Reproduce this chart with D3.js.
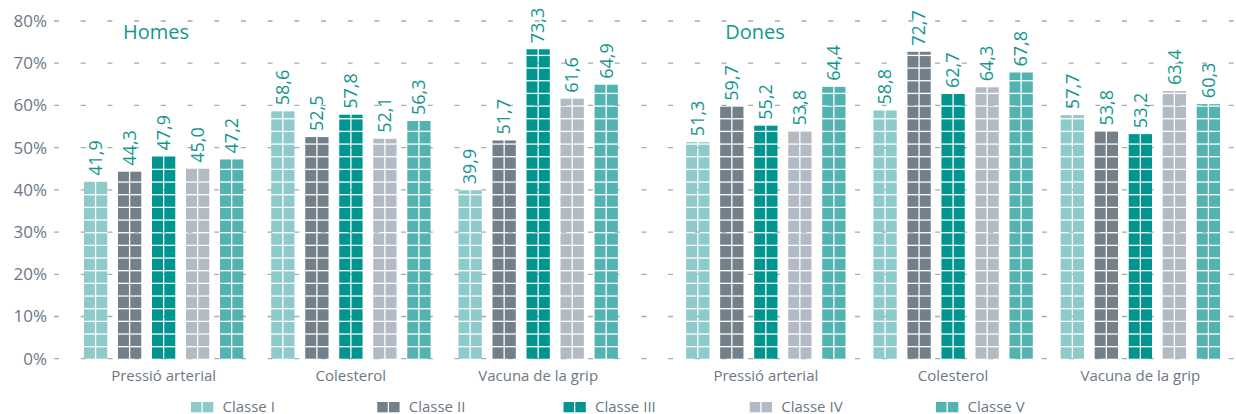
<!DOCTYPE html>
<html>
<head>
<meta charset="utf-8">
<script src="https://cdn.jsdelivr.net/npm/d3@7"></script>
<style>
  body { margin: 0; background: #fff; }
  text { font-family: "Open Sans", sans-serif; }
</style>
</head>
<body>
<div id="chart"></div>
<script>
// data
const sexes = ["Homes", "Dones"];
const categories = ["Pressió arterial", "Colesterol", "Vacuna de la grip"];
const classes = ["Classe I", "Classe II", "Classe III", "Classe IV", "Classe V"];
const homesValues = [
  [41.9, 44.3, 47.9, 45.0, 47.2],
  [58.6, 52.5, 57.8, 52.1, 56.3],
  [39.9, 51.7, 73.3, 61.6, 64.9]
];
const donesValues = [
  [51.3, 59.7, 55.2, 53.8, 64.4],
  [58.8, 72.7, 62.7, 64.3, 67.8],
  [57.7, 53.8, 53.2, 63.4, 60.3]
];
const yTicks = [0, 10, 20, 30, 40, 50, 60, 70, 80];
const cellPct = 3; // each little square stands for 3%

const colors = ["#8ccbca", "#73808a", "#00958f", "#b2bbc3", "#52b3b1"];
const labelColor = "#13968f";
const textGray = "#6c7883";

const width = 1236, height = 414;

const rows = [];
[homesValues, donesValues].forEach((vals, si) => {
  vals.forEach((arr, ci) => {
    arr.forEach((v, k) => {
      rows.push({ sex: sexes[si], cat: categories[ci], cls: classes[k], value: v });
    });
  });
});

const svg = d3.select("#chart").append("svg")
  .attr("width", width)
  .attr("height", height);

// scales
const xSex = d3.scaleBand().domain(sexes).range([70, 1234]).paddingInner(0.0671).paddingOuter(0);
const xCat = d3.scaleBand().domain(categories).range([0, xSex.bandwidth()]);
const xCls = d3.scaleBand().domain(classes).range([0, xCat.bandwidth()]).paddingInner(0.315).paddingOuter(0.41);
const y = d3.scaleLinear().domain([0, 80]).range([358.7, 21]);

// gridlines (dashed)
svg.append("g").selectAll("line")
  .data(yTicks)
  .enter().append("line")
  .attr("x1", 54)
  .attr("x2", width)
  .attr("y1", d => y(d))
  .attr("y2", d => y(d))
  .attr("stroke", "#a3abb1")
  .attr("stroke-width", 1.3)
  .attr("stroke-dasharray", "5,21.7");

// y axis labels
svg.append("g").selectAll("text")
  .data(yTicks)
  .enter().append("text")
  .attr("x", 47)
  .attr("y", d => y(d))
  .attr("dy", "0.35em")
  .attr("text-anchor", "end")
  .style("font-size", "17px")
  .style("fill", textGray)
  .text(d => d + "%");

// bars made of cells
const barX = d => xSex(d.sex) + xCat(d.cat) + xCls(d.cls);
const bw = xCls.bandwidth();
const gap = 1.3;
const colW = (bw - gap) / 2;

const cells = [];
rows.forEach(d => {
  const n = Math.ceil(d.value / cellPct);
  for (let k = 0; k < n; k++) {
    const lo = k * cellPct;
    const hi = Math.min((k + 1) * cellPct, d.value);
    [0, 1].forEach(col => cells.push({ d, lo, hi, col }));
  }
});

svg.append("g").selectAll("rect")
  .data(cells)
  .enter().append("rect")
  .attr("x", c => barX(c.d) + c.col * (colW + gap))
  .attr("width", colW)
  .attr("y", c => y(c.hi) + (c.hi === c.d.value ? 0 : gap))
  .attr("height", c => Math.max(0, y(c.lo) - y(c.hi) - (c.hi === c.d.value ? 0 : gap)))
  .attr("fill", c => colors[classes.indexOf(c.d.cls)]);

// value labels
svg.append("g").selectAll("text")
  .data(rows)
  .enter().append("text")
  .attr("transform", d => `translate(${barX(d) + bw / 2},${y(d.value) - 6}) rotate(-90)`)
  .attr("dy", "0.35em")
  .style("font-size", "18px")
  .style("fill", labelColor)
  .text(d => d3.format(".1f")(d.value).replace(".", ","));

// category labels
const catLabels = [];
sexes.forEach(s => categories.forEach(c => catLabels.push({ s, c })));
svg.append("g").selectAll("text")
  .data(catLabels)
  .enter().append("text")
  .attr("x", d => xSex(d.s) + xCat(d.c) + xCat.bandwidth() / 2)
  .attr("y", 380.7)
  .attr("text-anchor", "middle")
  .style("font-size", "15px")
  .style("fill", textGray)
  .text(d => d.c);

// Homes / Dones titles
svg.append("g").selectAll("text")
  .data(sexes)
  .enter().append("text")
  .attr("x", d => xSex(d) + 53)
  .attr("y", 38.5)
  .style("font-size", "20px")
  .style("fill", labelColor)
  .text(d => d);

// legend
const legend = svg.append("g").selectAll("g")
  .data(classes)
  .enter().append("g")
  .attr("transform", (d, i) => `translate(${191 + i * 186.25},402)`);

legend.append("rect").attr("x", 0).attr("width", 10.5).attr("height", 10.3)
  .attr("fill", (d, i) => colors[i]);
legend.append("rect").attr("x", 11.8).attr("width", 10.5).attr("height", 10.3)
  .attr("fill", (d, i) => colors[i]);
legend.append("text")
  .attr("x", 31.5)
  .attr("y", 5.2)
  .attr("dy", "0.35em")
  .style("font-size", "15px")
  .style("fill", textGray)
  .text(d => d);
</script>
</body>
</html>
